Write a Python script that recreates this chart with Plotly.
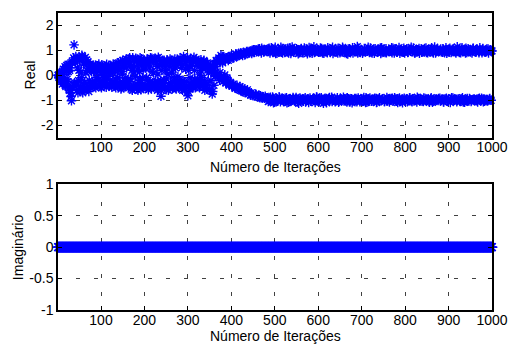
import plotly.graph_objects as go
from plotly.subplots import make_subplots

# ---------------- data ----------------
N_ITER = 1000
iter_even = list(range(2, N_ITER + 1, 2))
iter_odd = list(range(1, N_ITER, 2))

# real part at even iterations
real_even = [
    0.02, -0.05, 0.08, -0.12, -0.25, 0.05, -0.3, 0.15, -0.4, 0.3, -0.15, 0.45, -0.55, 0.2, -0.7, -1.02, 0.55, -0.35, 1.22, 0.6,
    0.75, -0.6, 0.3, -0.2, 0.65, -0.45, 0.1, 0.8, -0.7, 0.45, -0.3, 0.72, -0.5, 0.2, 0.55, -0.65, 0.35, -0.4, 0.15, -0.25,
    0.4, -0.35, 0.25, -0.5, 0.1, 0.38, -0.2, 0.3, -0.45, 0.05, 0.42, -0.3, 0.18, -0.15, 0.35, -0.48, 0.22, -0.05, 0.4, -0.38,
    0.3, -0.42, 0.12, 0.45, -0.25, 0.2, -0.5, 0.38, -0.1, 0.5, -0.35, 0.28, -0.55, 0.15, 0.6, -0.3, 0.42, -0.45, 0.65, -0.2,
    0.55, -0.5, 0.7, -0.15, 0.35, -0.6, 0.62, 0.1, -0.4, 0.68, -0.55, 0.25, 0.5, -0.3, 0.7, -0.58, 0.4, -0.1, 0.6, -0.45,
    0.3, -0.52, 0.65, -0.2, 0.45, -0.35, 0.7, -0.55, 0.15, 0.58, -0.4, 0.68, -0.25, 0.5, -0.6, 0.72, -0.3, 0.4, -0.84, 0.2,
    -0.45, 0.55, -0.2, 0.35, -0.58, 0.62, 0.05, -0.4, 0.5, -0.3, 0.6, -0.55, 0.25, -0.1, 0.65, -0.5, 0.4, -0.35, 0.58, -0.2,
    0.7, -0.45, 0.3, -0.6, 0.75, -0.25, 0.5, -0.4, 0.6, -0.82, 0.2, -0.55, 0.68, -0.3, 0.45, -0.5, 0.72, -0.15, 0.55, -0.38,
    -0.15, 0.5, -0.35, 0.05, 0.62, 0.3, -0.45, 0.55, -0.2, 0.35, 0.48, -0.55, -0.3, 0.25, -0.6, 0.4, 0.15, -0.75, 0.3, -0.4,
    0.1, 0.35, 0.55, 0.05, 0.62, -0.1, 0.12, 0.8, -0.15, 0.5, 0.7, -0.2, 0.6, -0.3, -0.1, 0.72, -0.35, 0.65, -0.28, 0.78,
    -0.42, -0.35, 0.72, -0.5, 0.85, 0.75, -0.48, 0.82, -0.58, -0.45, 0.9, -0.62, 0.8, 0.92, -0.55, -0.7, 0.88, -0.65, 0.95, -0.72,
    0.9, -0.78, -0.7, 1.0, -0.82, 0.92, 1.02, -0.75, 0.95, -0.85, 1.05, -0.8, -0.9, 0.98, 1.08, -0.88, 0.94, -0.92, -0.84, 1.02,
    -0.9, 1.05, 0.96, -1.02, -0.88, 1.1, -0.95, 0.92, 1.0, -1.08, 0.88, -0.93, -1.0, 1.04, -0.86, 0.97, 1.12, -0.98, 0.9, -1.05,
    1.02, -0.92, 0.95, -1.1, 1.08, 0.9, -0.97, -1.03, 0.98, 1.13, -0.89, 0.94, -1.0, -0.94, 1.06, -1.07, 0.87, 1.0, -0.91, 1.04,
    -0.99, 0.93, -1.04, 1.09, -0.9, 0.97, 1.02, -0.95, -1.09, 0.91, 1.05, -0.98, 0.89, -0.93, 1.14, -1.01, 0.96, -0.87, 1.03, 0.99,
    -1.06, 0.94, -0.96, 1.07, 0.9, -1.12, 1.0, -0.92, 0.97, -1.0, 1.1, -0.94, -0.89, 0.92, 1.04, -1.05, 0.88, -0.97, 1.01, -1.02,
    0.95, -0.9, 1.08, -1.04, 0.91, 0.99, -0.96, 1.12, -0.88, -1.01, 0.93, 1.03, -1.07, 0.86, -0.94, 1.06, -0.99, 0.97, -1.1, 0.9,
    1.02, -0.93, -1.0, 0.96, 1.15, -0.91, 0.94, -1.06, 1.0, -0.97, 0.89, -1.03, 1.07, 0.95, -0.9, -1.08, 1.01, -0.95, 0.92, 1.09,
    -0.98, 0.9, -1.02, 1.05, -0.92, 0.97, -1.09, 0.93, 1.03, -0.94, -1.0, 0.88, 1.1, -0.96, 0.99, -1.05, 0.92, 1.06, -0.89, -1.03,
    0.96, -1.07, 1.0, -0.93, 0.91, 1.08, -0.99, -0.9, 1.04, -1.04, 0.94, -0.95, 1.11, 0.89, -1.01, 0.98, -1.1, 0.93, -0.92, 1.02,
    -0.97, 1.06, 0.92, -1.02, -0.91, 0.99, 1.12, -1.06, 0.95, -0.94, 0.9, -1.0, 1.03, -0.88, 0.97, 1.07, -1.03, -0.96, 0.93, 1.0,
    -1.05, 0.94, -0.93, 1.09, -1.0, 0.91, 0.98, -1.08, 1.04, -0.9, 0.95, -0.97, -1.04, 1.13, 0.9, -0.95, 1.01, -1.01, 0.96, -0.92,
    1.05, -0.99, 0.93, -1.06, 0.97, -0.94, 1.1, 0.89, -1.02, -0.96, 1.02, -1.09, 0.92, 0.99, -0.91, 1.06, -1.0, 0.94, -0.97, 1.14,
    -0.95, 0.98, -1.03, 0.91, 1.04, -0.9, -1.07, 0.96, -0.98, 1.08, 0.92, -1.01, 0.97, -0.93, 1.0, -1.05, 0.9, 1.07, -0.96, -1.0,
    0.95, -1.02, 1.03, -0.94, 0.91, 1.1, -0.99, -0.92, 1.0, -1.06, 0.96, 0.93, -0.97, 1.05, -1.03, 0.9, -0.95, 1.02, -1.0, 0.98,
]

# real part at odd iterations
real_odd = [
    0.0, -0.08, 0.12, -0.2, 0.1, -0.35, 0.25, -0.1, 0.35, -0.45, 0.4, -0.25, 0.15, -0.6, 0.3, -0.85, 0.5, -0.5, 0.7, -0.3,
    0.5, -0.4, 0.68, -0.7, 0.2, 0.6, -0.55, -0.1, 0.75, -0.35, 0.5, -0.6, 0.1, 0.62, -0.45, 0.3, -0.2, 0.45, -0.5, 0.35,
    -0.3, 0.15, -0.45, 0.4, -0.1, 0.28, -0.38, 0.45, -0.25, 0.2, -0.5, 0.35, 0.0, -0.4, 0.3, -0.2, 0.44, -0.35, 0.1, 0.25,
    -0.2, 0.35, -0.48, 0.1, 0.4, -0.3, 0.25, -0.15, 0.48, -0.45, 0.2, -0.28, 0.55, -0.5, 0.05, 0.38, -0.4, 0.58, -0.1, 0.3,
    -0.35, 0.65, -0.25, 0.45, -0.55, 0.2, 0.7, -0.45, 0.35, -0.05, 0.6, -0.35, -0.6, 0.5, 0.15, -0.2, 0.66, -0.5, 0.25, 0.55,
    -0.4, 0.5, -0.1, 0.62, -0.58, 0.3, -0.25, 0.55, 0.68, -0.45, 0.1, -0.3, 0.6, -0.5, 0.35, 0.05, -0.55, 0.65, -0.2, -0.6,
    0.45, -0.3, 0.6, -0.5, 0.2, -0.15, 0.55, -0.6, 0.35, 0.65, -0.4, 0.1, -0.5, 0.5, -0.25, 0.3, -0.55, 0.6, -0.05, 0.45,
    -0.3, 0.55, -0.55, 0.4, -0.2, 0.65, -0.6, 0.25, -0.45, 0.7, -0.65, 0.35, -0.1, 0.5, -0.45, 0.6, -0.3, 0.2, -0.5, 0.65,
    0.4, -0.25, 0.55, -0.5, 0.2, -0.1, 0.45, -0.35, 0.6, -0.6, 0.3, -0.4, 0.5, 0.1, -0.55, 0.35, -0.2, 0.25, -0.65, 0.2,
    0.45, -0.05, 0.6, 0.0, 0.5, 0.7, -0.2, 0.55, -0.05, 0.75, -0.25, 0.65, 0.02, -0.3, 0.7, -0.15, 0.6, -0.4, 0.75, -0.32,
    0.8, -0.4, 0.7, -0.45, -0.52, 0.85, -0.4, 0.78, 0.88, -0.55, -0.6, 0.85, -0.5, 0.9, -0.68, 0.82, -0.62, 0.95, -0.58, 0.9,
    -0.72, 0.95, -0.8, 0.88, -0.76, 1.02, 0.93, -0.83, -0.78, 1.0, -0.87, 0.96, 1.06, -0.82, 0.9, -0.92, -0.86, 1.03, 0.97, -0.9,
    0.98, -0.94, -1.05, 1.08, 0.9, -0.99, 1.03, -0.87, -1.1, 0.95, 1.12, -0.96, 0.89, -1.02, 1.0, -0.9, -1.06, 0.93, 1.07, -0.98,
    -1.03, 0.92, 1.05, -0.9, 0.97, -1.08, -0.95, 1.1, 0.88, -1.0, 0.99, -0.93, 1.06, -1.04, -0.89, 0.94, 1.02, -1.12, 0.91, -0.96,
    1.07, -1.0, 0.9, -0.94, 1.03, -1.07, 0.95, 0.87, -0.98, 1.11, -0.91, -1.04, 0.99, 1.05, -0.95, 0.92, -1.09, 1.0, -0.88, 0.96,
    0.93, -1.01, 1.09, -0.9, -1.05, 0.96, 0.89, -0.97, 1.04, -1.1, 0.91, 1.01, -0.94, -1.02, 0.97, -0.88, 1.12, -1.0, 0.95, -1.06,
    -0.97, 1.04, 0.9, -1.08, 0.98, -0.92, -1.0, 0.94, 1.07, -0.95, 1.0, -1.03, 0.88, -0.9, 1.05, 0.93, -1.07, 0.99, -0.94, 1.1,
    -1.01, 0.96, 1.03, -0.93, -1.06, 0.9, 1.08, -0.98, 0.92, -1.02, 1.0, 0.95, -0.89, 1.04, -1.09, -0.96, 0.97, 1.12, -1.0, -0.91,
    0.94, -1.04, 1.01, -0.97, 0.89, 1.06, -0.93, -1.08, 0.96, 1.0, -0.9, 1.09, -1.01, 0.92, -0.95, 1.03, -1.05, 0.98, 0.91, -0.99,
    -0.94, 1.02, -1.0, 0.97, 1.1, -0.92, -1.03, 0.9, -0.97, 1.05, 0.93, -1.09, 0.99, -0.91, 1.03, -1.02, 0.95, -0.96, 1.08, 0.9,
    1.01, -0.96, -1.06, 0.93, 1.04, -0.9, 0.97, -1.03, -0.95, 1.09, -1.0, 0.91, 0.98, -1.07, 1.02, -0.93, 0.89, -0.99, 1.06, -1.04,
    0.96, -0.91, 1.07, -1.01, 0.92, 1.0, -0.97, -1.05, 0.94, -0.94, 1.1, -1.08, 0.9, 1.04, -0.96, -1.0, 0.97, 1.03, -0.93, 0.99,
    -1.02, 0.95, -0.95, 1.06, -1.07, 0.91, 1.01, -0.92, 0.98, -1.04, 0.93, 1.08, -0.99, -0.9, 1.04, -1.01, 0.96, -0.98, 0.9, -1.06,
    1.03, -0.97, 0.92, -1.05, -0.94, 1.1, 0.97, -1.0, -1.08, 0.9, 1.02, -0.93, 1.06, -1.03, -0.96, 0.94, -1.01, 0.99, 1.08, -0.95,
    -0.99, 0.93, 1.04, -1.07, 0.96, -0.92, 1.0, -1.02, 0.91, 1.07, -0.95, -1.04, 0.98, 0.95, -0.97, 1.05, -1.0, -0.93, 1.01, 0.97,
]
assert len(real_even) == len(iter_even) and len(real_odd) == len(iter_odd)

iter_imag = list(range(1, N_ITER + 1))
imag_value = 0.0                     # imaginary part reads as 0 at every iteration
imag_part = [imag_value] * len(iter_imag)

x_ticks = [100, 200, 300, 400, 500, 600, 700, 800, 900, 1000]
real_ticks = [-2, -1, 0, 1, 2]
real_tick_text = ["-2", "-1", "0", "1", "2"]
imag_ticks = [-1, -0.5, 0, 0.5, 1]
imag_tick_text = ["-1", "-0.5", "0", "0.5", "1"]

x_title = "Número de Iterações"
y_title_top = "Real"
y_title_bottom = "Imaginário"

# ---------------- figure ----------------
BLUE = "#0000FF"
FONT = "Liberation Sans, Arial, sans-serif"
FS = 14

fig = make_subplots(rows=2, cols=1, vertical_spacing=0.0)

marker = dict(symbol="asterisk-open", size=8, color=BLUE,
              line=dict(color=BLUE, width=1.4))

fig.add_trace(go.Scatter(x=iter_odd + iter_even, y=real_odd + real_even, mode="markers",
                         marker=marker, cliponaxis=False, showlegend=False),
              row=1, col=1)
fig.add_trace(go.Scatter(x=iter_imag, y=imag_part, mode="markers",
                         marker=dict(marker, size=9), cliponaxis=False, showlegend=False),
              row=2, col=1)

axis_common = dict(ticks="inside", ticklen=4, tickcolor="black", tickwidth=1,
                   showline=True, linecolor="black", linewidth=1.5, mirror="ticks",
                   showgrid=True, gridcolor="#404040", gridwidth=1, griddash="4px,14px",
                   zeroline=False, tickfont=dict(family=FONT, size=FS, color="black"))

fig.update_xaxes(range=[1, N_ITER], tickvals=x_ticks, ticklabelstandoff=-4, **axis_common)
fig.update_yaxes(**axis_common)

fig.update_layout(
    width=515, height=353,
    margin=dict(l=58, r=23, t=5, b=43),
    paper_bgcolor="white", plot_bgcolor="white",
    font=dict(family=FONT, size=FS, color="black"),
    xaxis=dict(domain=[0, 1], anchor="y"),
    yaxis=dict(domain=[0.5803, 1.0], range=[-2.5, 2.5],
               tickvals=real_ticks, ticktext=real_tick_text),
    xaxis2=dict(domain=[0, 1], anchor="y2"),
    yaxis2=dict(domain=[0.0, 0.423], range=[-1, 1],
                tickvals=imag_ticks, ticktext=imag_tick_text),
)

ann_font = dict(family=FONT, size=FS, color="black")
fig.add_annotation(text=x_title, xref="paper", yref="paper", x=0.5, y=0.482,
                   showarrow=False, font=ann_font, xanchor="center", yanchor="middle")
fig.add_annotation(text=x_title, xref="paper", yref="paper", x=0.5, y=-0.0885,
                   showarrow=False, font=ann_font, xanchor="center", yanchor="middle")
fig.add_annotation(text=y_title_top, xref="paper", yref="paper", x=-0.0645, y=0.79,
                   showarrow=False, font=ann_font, textangle=-90,
                   xanchor="center", yanchor="middle")
fig.add_annotation(text=y_title_bottom, xref="paper", yref="paper", x=-0.0922, y=0.2115,
                   showarrow=False, font=ann_font, textangle=-90,
                   xanchor="center", yanchor="middle")

fig.write_html("out.html")
